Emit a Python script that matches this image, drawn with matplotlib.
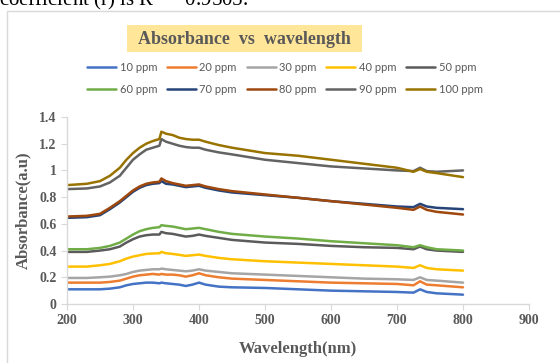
import matplotlib
matplotlib.use("Agg")
import matplotlib.pyplot as plt
from matplotlib.patches import Rectangle

wavelength = [200, 230, 250, 265, 280, 290, 300, 310, 320, 330, 340, 343, 350, 360, 370, 380, 390,
              400, 410, 430, 450, 500, 550, 600, 650, 700, 725, 735, 745, 760, 800]

ppm10  = [.11, .11, .11, .115, .125, .14, .15, .155, .16, .16, .155, .16, .155, .15, .145, .135, .145,
          .16, .145, .13, .125, .12, .11, .10, .095, .09, .085, .11, .09, .08, .07]
ppm20  = [.16, .16, .16, .165, .175, .19, .205, .215, .22, .225, .22, .225, .22, .22, .215, .205, .215,
          .23, .215, .20, .19, .18, .17, .16, .155, .15, .14, .17, .145, .14, .125]
ppm30  = [.195, .195, .20, .205, .215, .225, .24, .25, .255, .26, .26, .265, .26, .255, .25, .245, .25,
          .26, .25, .24, .23, .22, .21, .20, .19, .185, .18, .20, .18, .175, .16]
ppm40  = [.28, .28, .29, .30, .32, .34, .355, .365, .375, .378, .38, .39, .38, .375, .368, .36, .365,
          .37, .36, .345, .335, .32, .31, .30, .29, .28, .27, .29, .27, .26, .25]
ppm50  = [.39, .39, .40, .41, .43, .46, .485, .505, .515, .52, .52, .54, .53, .525, .515, .505, .51,
          .52, .51, .495, .48, .46, .45, .435, .425, .42, .41, .43, .41, .40, .39]
ppm60  = [.41, .41, .42, .435, .46, .49, .52, .545, .56, .57, .575, .59, .585, .58, .57, .56, .565,
          .57, .56, .54, .525, .505, .49, .47, .455, .44, .425, .44, .425, .41, .40]
ppm70  = [.645, .65, .665, .71, .76, .80, .84, .87, .89, .90, .905, .92, .90, .895, .885, .875, .88,
          .885, .87, .85, .835, .815, .795, .77, .75, .73, .725, .75, .73, .72, .71]
ppm80  = [.655, .66, .675, .72, .77, .81, .85, .88, .90, .91, .915, .94, .92, .905, .895, .885, .89,
          .895, .88, .86, .845, .82, .795, .77, .745, .72, .705, .73, .705, .69, .67]
ppm90  = [.86, .865, .88, .91, .96, 1.02, 1.08, 1.12, 1.155, 1.17, 1.185, 1.235, 1.215, 1.20, 1.185, 1.175, 1.17,
          1.17, 1.155, 1.135, 1.12, 1.08, 1.055, 1.03, 1.015, 1.00, .995, 1.02, .995, .99, 1.00]
ppm100 = [.89, .90, .92, .96, 1.02, 1.08, 1.13, 1.17, 1.20, 1.22, 1.235, 1.29, 1.275, 1.265, 1.245, 1.235, 1.23,
          1.23, 1.215, 1.19, 1.17, 1.13, 1.11, 1.08, 1.05, 1.02, .99, 1.01, .99, .98, .95]

labels = ["10 ppm", "20 ppm", "30 ppm", "40 ppm", "50 ppm",
          "60 ppm", "70 ppm", "80 ppm", "90 ppm", "100 ppm"]
series = [ppm10, ppm20, ppm30, ppm40, ppm50, ppm60, ppm70, ppm80, ppm90, ppm100]
colors = ["#4472C4", "#ED7D31", "#A5A5A5", "#FFC000", "#5B5B5B",
          "#70AD47", "#264478", "#9E480E", "#636363", "#997300"]

xticks = [200, 300, 400, 500, 600, 700, 800, 900]
yticks = [0, 0.2, 0.4, 0.6, 0.8, 1, 1.2, 1.4]
ytick_labels = ["0", "0.2", "0.4", "0.6", "0.8", "1", "1.2", "1.4"]

W, H = 560, 363
fig = plt.figure(figsize=(W / 100, H / 100), dpi=100)
fig.patch.set_facecolor("white")

def fx(px):
    return px / W

def fy(py):
    return 1 - py / H

# document text cut at top (as in the reference screenshot)
fig.text(fx(-1), fy(6), "coefficient (r) is R$^2$ = 0.9505.", family="Liberation Serif",
         fontsize=15, color="black", va="baseline", ha="left")

# chart frame
fig.patches.append(Rectangle((fx(7), fy(400)), fx(600), fy(11) - fy(400), transform=fig.transFigure,
                             facecolor="none", edgecolor="#D9D9D9", lw=1.0))

# title box
fig.patches.append(Rectangle((fx(127), fy(52)), fx(362) - fx(127), fy(25) - fy(52), transform=fig.transFigure,
                             facecolor="#FFE699", edgecolor="none"))
fig.text(fx(244.5), fy(39), "Absorbance  vs  wavelength", family="Liberation Serif", fontweight="bold",
         fontsize=13, color="#595959", ha="center", va="center")

ax = fig.add_axes([fx(67), fy(304), fx(529) - fx(67), fy(117) - fy(304)])
lines = []
for vals, lab, c in zip(series, labels, colors):
    ln, = ax.plot(wavelength, vals, color=c, lw=1.8, label=lab,
                  solid_capstyle="round", solid_joinstyle="round")
    lines.append(ln)

ax.set_xlim(200, 900)
ax.set_ylim(0, 1.4)
ax.set_xticks(xticks)
ax.set_yticks(yticks)
ax.set_yticklabels(ytick_labels)
for s in ["top", "right"]:
    ax.spines[s].set_visible(False)
for s in ["left", "bottom"]:
    ax.spines[s].set_color("#D9D9D9")
    ax.spines[s].set_linewidth(1.0)
ax.tick_params(axis="both", direction="out", length=4, color="#D9D9D9", labelcolor="#595959", labelsize=10)
for t in ax.get_xticklabels() + ax.get_yticklabels():
    t.set_family("Liberation Serif")
    t.set_fontweight("bold")
ax.set_xlabel("Wavelength(nm)", family="Liberation Serif", fontweight="bold", fontsize=12,
              color="#595959", labelpad=10)
ax.set_ylabel("Absorbance(a.u)", family="Liberation Serif", fontweight="bold", fontsize=12,
              color="#595959", labelpad=6)

# legend in row-major order (matplotlib fills columns first)
order = [0, 5, 1, 6, 2, 7, 3, 8, 4, 9]
leg = fig.legend(handles=[lines[i] for i in order], labels=[labels[i] for i in order], ncol=5,
                 loc="center", bbox_to_anchor=(fx(285), fy(78.5)), frameon=False,
                 prop={"family": "Lato", "size": 8}, handlelength=2.6, handletextpad=0.3,
                 columnspacing=0.9, labelspacing=0.95)
for t in leg.get_texts():
    t.set_color("#595959")

fig.savefig("out.png", dpi=100)
